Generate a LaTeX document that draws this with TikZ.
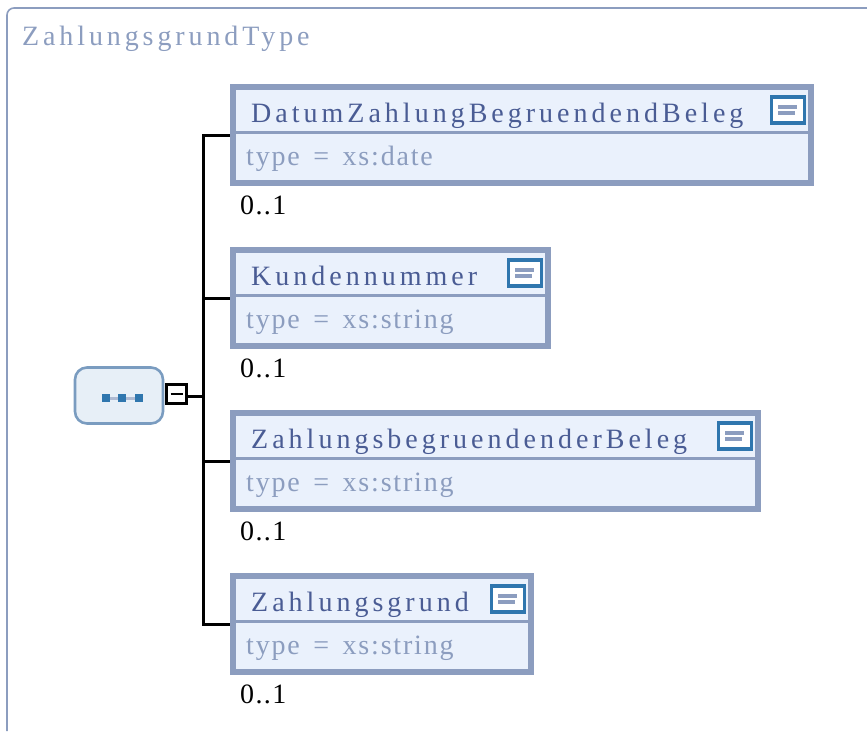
\documentclass[tikz,border=0pt]{standalone}
\usepackage{fontspec}
\setmainfont{Liberation Serif}
\usetikzlibrary{positioning}
\definecolor{framecol}{HTML}{8C9DBF}
\definecolor{boxfill}{HTML}{EAF1FC}
\definecolor{titlecol}{HTML}{4A5C94}
\definecolor{rootfill}{HTML}{E7EFF7}
\definecolor{rootline}{HTML}{7A9CC0}
\definecolor{btnline}{HTML}{2F76AE}
\definecolor{dotcol}{HTML}{3F8FBF}

\begin{document}
\begin{tikzpicture}[x=1pt, y=-1pt,
  elembox/.style = {draw=framecol, fill=boxfill, line width=6pt, minimum height=96pt, inner sep=0pt},
  elemname/.style = {text=titlecol, anchor=base west, inner sep=0pt, font=\fontsize{28}{30}\selectfont\addfontfeature{LetterSpace=14.3}},
  elemtype/.style = {text=framecol, anchor=base west, inner sep=0pt, font=\fontsize{28}{30}\selectfont\addfontfeature{LetterSpace=6.5}},
  occurs/.style = {anchor=base west, inner sep=0pt, font=\fontsize{28}{30}\selectfont\addfontfeature{LetterSpace=5}},
  divider/.style = {draw=framecol, line width=3pt},
  conn/.style = {draw=black, line width=3pt},
  button/.style = {draw=btnline, fill=white, line width=3.5pt, minimum width=33pt, minimum height=26pt, inner sep=0pt,
    path picture={
      \fill[framecol] ([xshift=7pt,yshift=-8pt]path picture bounding box.north west) rectangle ([xshift=-7pt,yshift=-12pt]path picture bounding box.north east);
      \fill[framecol] ([xshift=7pt,yshift=-14pt]path picture bounding box.north west) rectangle ([xshift=-9pt,yshift=-18pt]path picture bounding box.north east);
    }},
  dot/.style = {fill=btnline, minimum size=8pt, inner sep=0pt}]
\useasboundingbox (0,0) rectangle (867,731);

% outer frame and its title
\draw[framecol, line width=1.6pt, rounded corners=7pt] (7,731) -- (7,8) -- (867,8);
\node[anchor=base west, inner sep=0pt, text=framecol, font=\fontsize{28}{30}\selectfont\addfontfeature{LetterSpace=13.9}] (Frame) at (22,45) {ZahlungsgrundType};

% element boxes
\node[elembox, minimum width=578pt, anchor=north west] (Datum) at (230,84) {};
\node[elembox, minimum width=315pt, below=61pt of Datum.south west, anchor=north west] (Kunden) {};
\node[elembox, minimum width=525pt, below=61pt of Kunden.south west, anchor=north west] (Beleg) {};
\node[elembox, minimum width=298pt, below=61pt of Beleg.south west, anchor=north west] (Grund) {};

\foreach \n/\t/\y in {Datum/DatumZahlungBegruendendBeleg/xs:date, Kunden/Kundennummer/xs:string, Beleg/ZahlungsbegruendenderBeleg/xs:string, Grund/Zahlungsgrund/xs:string} {
  \draw[divider] ([xshift=4pt,yshift=-48pt]\n.north west) -- ([xshift=-6pt,yshift=-48pt]\n.north east);
  \node[elemname] (\n Name) at ([xshift=21pt,yshift=-38pt]\n.north west) {\t};
  \node[elemtype] (\n Type) at ([xshift=16pt,yshift=-81pt]\n.north west) {type \,=\, \y};
  \node[occurs] (\n Occ) at ([xshift=10pt,yshift=-130pt]\n.north west) {0..1};
  \node[button, anchor=north east] (\n Btn) at ([xshift=-8pt,yshift=-11pt]\n.north east) {};
}

% root sequence node
\node[draw=rootline, fill=rootfill, line width=2.6pt, rounded corners=12pt, minimum width=88pt, minimum height=56pt, inner sep=0pt] (Root) at (119,395.5) {};
\node[draw=black, fill=white, line width=3pt, minimum width=20pt, minimum height=19pt, inner sep=0pt] (Minus) at (176.5,394) {};
\draw[black, line width=2.8pt] ([xshift=-6pt]Minus.center) -- ([xshift=6pt]Minus.center);
\draw[framecol!70, line width=3pt] (106,398) -- (139,398);
\node[dot] (DotA) at (106,398) {};
\node[dot] (DotB) at (122,398) {};
\node[dot] (DotC) at (139,398) {};

% connectors
\coordinate (Trunk) at (203,396);
\draw[conn] (Minus.east |- Trunk) -- (Trunk);
\draw[conn] (Trunk) |- (Datum.west);
\draw[conn] (Trunk) |- (Kunden.west);
\draw[conn] (Trunk) |- (Beleg.west);
\draw[conn] (Trunk) |- (Grund.west);
\end{tikzpicture}
\end{document}
